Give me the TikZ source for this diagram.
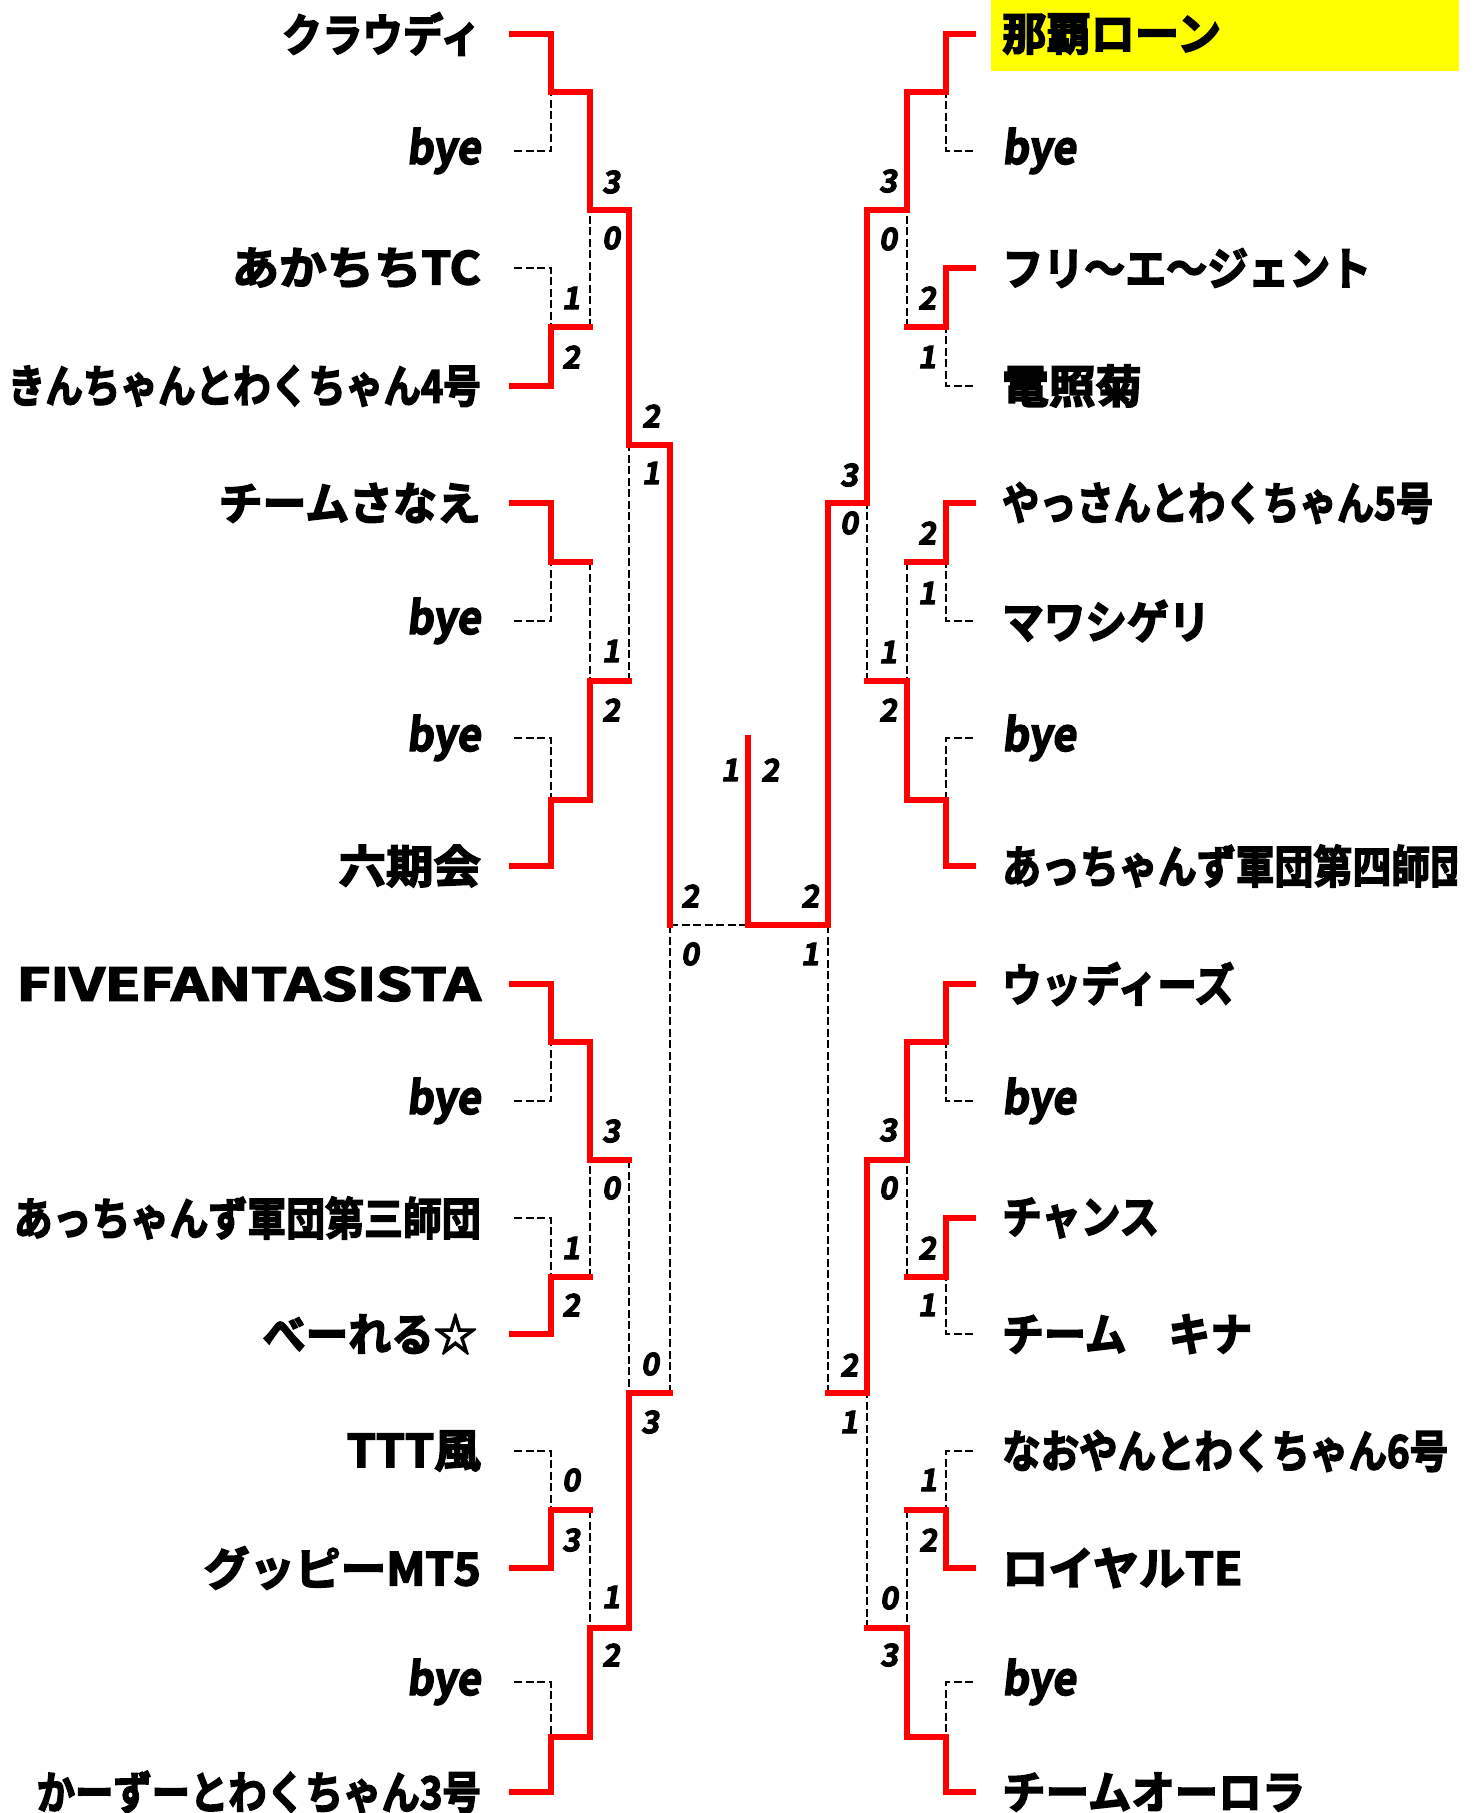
\documentclass[tikz,border=0pt]{standalone}
\usepackage{fontspec}
\usepackage{graphicx}
\newfontfamily\jpfont{Noto Sans CJK JP}[UprightFont={* Bold}, FakeBold=3.5]
\newfontfamily\slfont{Noto Sans CJK JP}[UprightFont={* Bold}, FakeBold=3.5, FakeSlant=0.12]
\newfontfamily\numfont{Noto Sans CJK JP}[UprightFont={* Bold}, FakeBold=3, FakeSlant=0.15]
\newcommand\nm[2]{\resizebox{#1pt}{\height}{\jpfont\fontsize{45}{45}\selectfont #2}}
\newcommand\byetxt{\resizebox{74pt}{\height}{\slfont\fontsize{45}{45}\selectfont bye}}
\definecolor{bred}{RGB}{255,0,0}
\definecolor{hlyellow}{RGB}{255,255,0}
\tikzset{
  win/.style={draw=bred, line width=5.5pt, line cap=rect, line join=miter},
  lose/.style={draw=black, line width=2.6pt, dash pattern=on 8pt off 3.5pt},
  nameL/.style={inner sep=0pt, anchor=east},
  nameR/.style={inner sep=0pt, anchor=west},
  score/.style={inner sep=0pt, font=\numfont\fontsize{31}{31}\selectfont},
  hlbox/.style={fill=hlyellow, draw=none, inner sep=0pt, anchor=north west, minimum width=468pt, minimum height=71pt}
}
\begin{document}
\begin{tikzpicture}[x=1pt,y=-1pt]
\useasboundingbox[fill=white] (0,0) rectangle (1478,1813);
\node[hlbox] (hl) at (991,0) {};

% ---------------- left names ----------------
\node[nameL] (L0) at (481,34) {\nm{199}{クラウディ}};
\node[nameL] (L1) at (481,151) {\byetxt};
\node[nameL] (L2) at (481,268) {\nm{249}{あかちちTC}};
\node[nameL] (L3) at (481,386) {\nm{473}{きんちゃんとわくちゃん4号}};
\node[nameL] (L4) at (481,503) {\nm{262}{チームさなえ}};
\node[nameL] (L5) at (481,621) {\byetxt};
\node[nameL] (L6) at (481,738) {\byetxt};
\node[nameL] (L7) at (481,866) {\nm{142}{六期会}};
\node[nameL] (L8) at (481,984) {\nm{464}{FIVEFANTASISTA}};
\node[nameL] (L9) at (481,1101) {\byetxt};
\node[nameL] (L10) at (481,1218) {\nm{467}{あっちゃんず軍団第三師団}};
\node[nameL] (L11) at (477,1334) {\nm{214}{べーれる☆}};
\node[nameL] (L12) at (481,1451) {\nm{134}{TTT風}};
\node[nameL] (L13) at (481,1568) {\nm{277}{グッピーMT5}};
\node[nameL] (L14) at (481,1682) {\byetxt};
\node[nameL] (L15) at (481,1792) {\nm{444}{かーずーとわくちゃん3号}};

% ---------------- right names ----------------
\node[nameR] (R0) at (1002,34) {\nm{219}{那覇ローン}};
\node[nameR] (R1) at (1002,151) {\byetxt};
\node[nameR] (R2) at (1002,268) {\nm{369}{フリ～エ～ジェント}};
\node[nameR] (R3) at (1002,386) {\nm{140}{電照菊}};
\node[nameR] (R4) at (1002,503) {\nm{431}{やっさんとわくちゃん5号}};
\node[nameR] (R5) at (1002,621) {\nm{208}{マワシゲリ}};
\node[nameR] (R6) at (1002,738) {\byetxt};
\begin{scope}
\clip (990,800) rectangle (1457,930);
\node[nameR] (R7) at (1002,866) {\nm{467}{あっちゃんず軍団第四師団}};
\end{scope}
\node[nameR] (R8) at (1002,984) {\nm{232}{ウッディーズ}};
\node[nameR] (R9) at (1002,1101) {\byetxt};
\node[nameR] (R10) at (1002,1218) {\nm{157}{チャンス}};
\node[nameR] (R11) at (1002,1334) {\nm{250}{チーム　キナ}};
\node[nameR] (R12) at (1002,1451) {\nm{446}{なおやんとわくちゃん6号}};
\node[nameR] (R13) at (1002,1568) {\nm{240}{ロイヤルTE}};
\node[nameR] (R14) at (1002,1682) {\byetxt};
\node[nameR] (R15) at (1002,1792) {\nm{303}{チームオーロラ}};

% ---------------- losing (dashed) lines ----------------
% left
\draw[lose] (514,151) -- (551,151) -- (551,92);
\draw[lose] (514,268) -- (551,268) -- (551,327);
\draw[lose] (514,621) -- (551,621) -- (551,562);
\draw[lose] (514,738) -- (551,738) -- (551,800);
\draw[lose] (514,1101) -- (551,1101) -- (551,1042);
\draw[lose] (514,1218) -- (551,1218) -- (551,1277);
\draw[lose] (514,1451) -- (551,1451) -- (551,1510);
\draw[lose] (514,1682) -- (551,1682) -- (551,1737);
\draw[lose] (590,327) -- (590,210);
\draw[lose] (590,562) -- (590,681);
\draw[lose] (590,1277) -- (590,1160);
\draw[lose] (590,1510) -- (590,1628);
\draw[lose] (629,681) -- (629,445);
\draw[lose] (629,1160) -- (629,1393);
\draw[lose] (670,1393) -- (670,925);
\draw[lose] (670,925) -- (748,925);
% right
\draw[lose] (973,151) -- (946,151) -- (946,92);
\draw[lose] (973,386) -- (946,386) -- (946,327);
\draw[lose] (973,621) -- (946,621) -- (946,562);
\draw[lose] (973,738) -- (946,738) -- (946,800);
\draw[lose] (973,1101) -- (946,1101) -- (946,1042);
\draw[lose] (973,1334) -- (946,1334) -- (946,1277);
\draw[lose] (973,1451) -- (946,1451) -- (946,1510);
\draw[lose] (973,1682) -- (946,1682) -- (946,1737);
\draw[lose] (907,327) -- (907,210);
\draw[lose] (907,562) -- (907,681);
\draw[lose] (907,1277) -- (907,1160);
\draw[lose] (907,1510) -- (907,1628);
\draw[lose] (867,681) -- (867,503);
\draw[lose] (867,1628) -- (867,1393);
\draw[lose] (828,1393) -- (828,925);

% ---------------- winning (red) lines ----------------
% left round 1
\draw[win] (512,34) -- (551,34) -- (551,92);
\draw[win] (512,386) -- (551,386) -- (551,327);
\draw[win] (512,503) -- (551,503) -- (551,562);
\draw[win] (512,866) -- (551,866) -- (551,800);
\draw[win] (512,984) -- (551,984) -- (551,1042);
\draw[win] (512,1334) -- (551,1334) -- (551,1277);
\draw[win] (512,1568) -- (551,1568) -- (551,1510);
\draw[win] (512,1792) -- (551,1792) -- (551,1737);
% left round 2
\draw[win] (551,92) -- (590,92) -- (590,210);
\draw[win] (551,327) -- (590,327);
\draw[win] (551,562) -- (590,562);
\draw[win] (551,800) -- (590,800) -- (590,681);
\draw[win] (551,1042) -- (590,1042) -- (590,1160);
\draw[win] (551,1277) -- (590,1277);
\draw[win] (551,1510) -- (590,1510);
\draw[win] (551,1737) -- (590,1737) -- (590,1628);
% left round 3
\draw[win] (590,210) -- (629,210) -- (629,445);
\draw[win] (590,681) -- (629,681);
\draw[win] (590,1160) -- (629,1160);
\draw[win] (590,1628) -- (629,1628) -- (629,1393);
% left round 4
\draw[win] (629,445) -- (670,445) -- (670,925);
\draw[win] (629,1393) -- (670,1393);
% right round 1
\draw[win] (973,34) -- (946,34) -- (946,92);
\draw[win] (973,268) -- (946,268) -- (946,327);
\draw[win] (973,503) -- (946,503) -- (946,562);
\draw[win] (973,866) -- (946,866) -- (946,800);
\draw[win] (973,984) -- (946,984) -- (946,1042);
\draw[win] (973,1218) -- (946,1218) -- (946,1277);
\draw[win] (973,1568) -- (946,1568) -- (946,1510);
\draw[win] (973,1792) -- (946,1792) -- (946,1737);
% right round 2
\draw[win] (946,92) -- (907,92) -- (907,210);
\draw[win] (946,327) -- (907,327);
\draw[win] (946,562) -- (907,562);
\draw[win] (946,800) -- (907,800) -- (907,681);
\draw[win] (946,1042) -- (907,1042) -- (907,1160);
\draw[win] (946,1277) -- (907,1277);
\draw[win] (946,1510) -- (907,1510);
\draw[win] (946,1737) -- (907,1737) -- (907,1628);
% right round 3
\draw[win] (907,210) -- (867,210) -- (867,503);
\draw[win] (907,681) -- (867,681);
\draw[win] (907,1160) -- (867,1160) -- (867,1393);
\draw[win] (907,1628) -- (867,1628);
% right round 4
\draw[win] (867,503) -- (828,503) -- (828,925);
\draw[win] (867,1393) -- (828,1393);
% final
\draw[win] (828,925) -- (748,925) -- (748,738);

% ---------------- scores ----------------
\foreach \x/\y/\t [count=\i] in {
  571/298/1, 571/357/2, 611/182/3, 611/238/0, 651/416/2, 651/473/1,
  611/651/1, 611/710/2, 690/896/2, 690/954/0, 611/1131/3, 611/1188/0,
  571/1248/1, 571/1305/2, 650/1364/0, 650/1422/3, 571/1480/0, 571/1540/3,
  611/1597/1, 611/1655/2,
  927/298/2, 927/357/1, 888/181/3, 888/239/0, 849/475/3, 849/523/0,
  927/533/2, 927/593/1, 888/652/1, 888/710/2, 810/896/2, 810/954/1,
  888/1130/3, 888/1188/0, 927/1248/2, 927/1305/1, 849/1365/2, 849/1422/1,
  928/1480/1, 928/1540/2, 889/1598/0, 889/1655/3,
  730/770/1, 770/770/2} {
  \node[score] (s\i) at (\x,\y) {\t};
}
\end{tikzpicture}
\end{document}
